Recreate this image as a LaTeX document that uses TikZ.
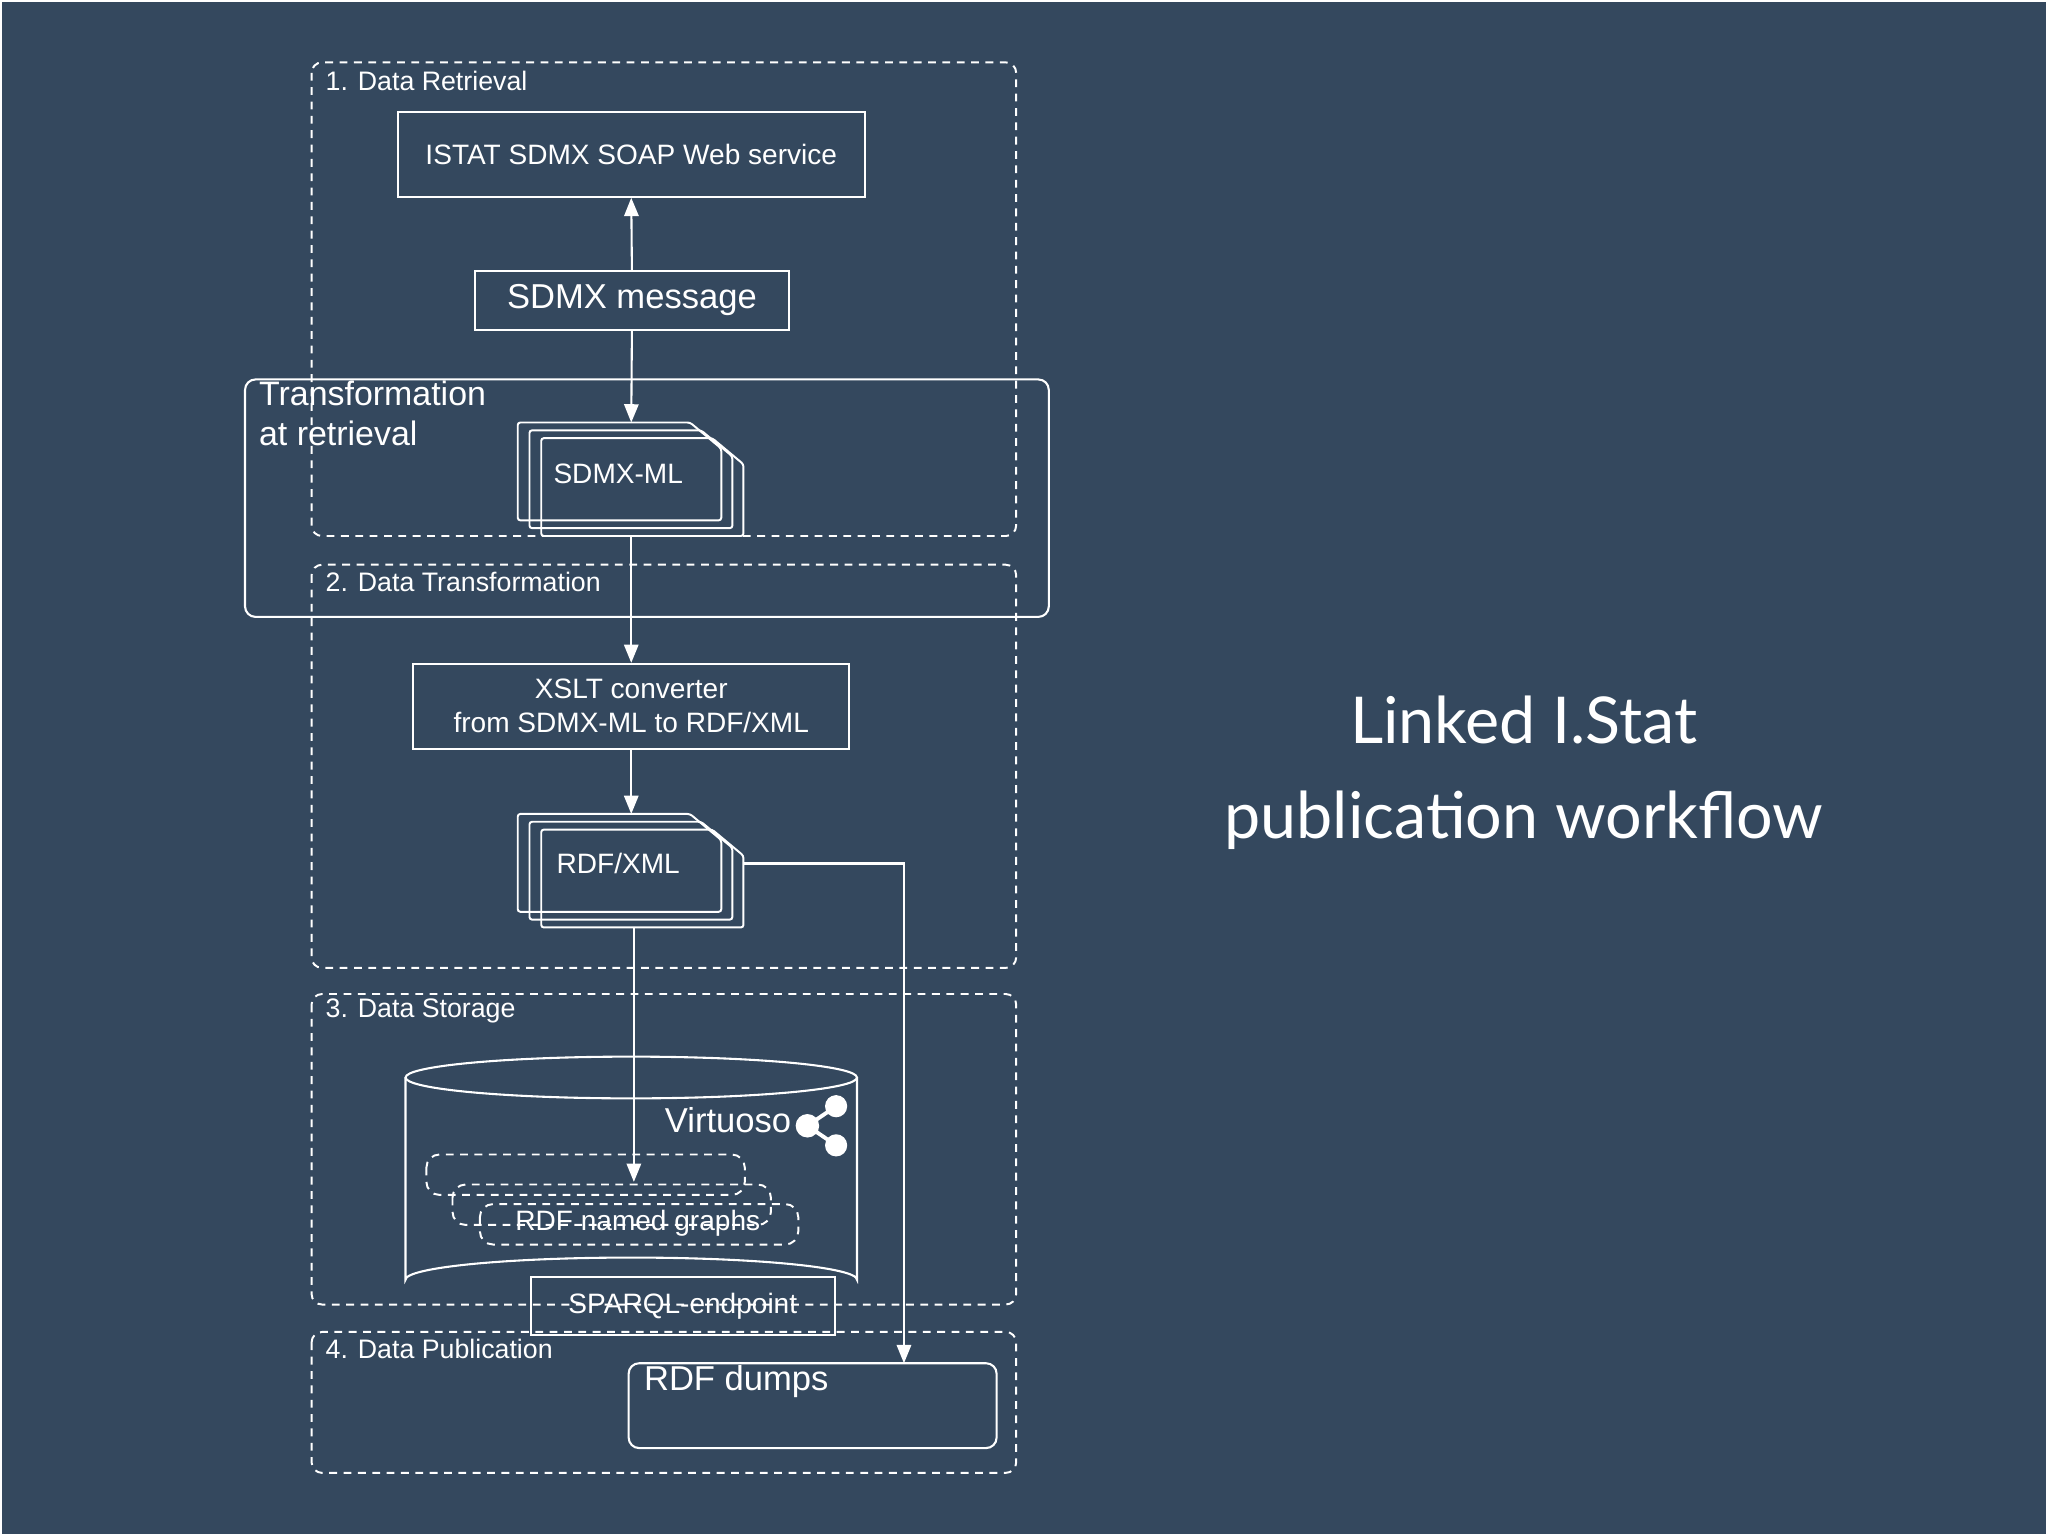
\documentclass[tikz,border=0pt]{standalone}
\usepackage{fontspec}
\setmainfont{Liberation Sans}
\newfontfamily\latofont{Lato}
\usetikzlibrary{arrows.meta}
\definecolor{bg}{RGB}{52,72,94}
\tikzset{
  every path/.style={draw=white, line width=1.6pt},
  grp/.style={draw=white, dashed, dash pattern=on 6pt off 5pt, rounded corners=8pt, line width=1.5pt},
  box/.style={draw=white, line width=1.6pt},
  lbl/.style={text=white, anchor=west, inner sep=0pt, font=\fontsize{20.5}{24}\selectfont},
  big/.style={text=white, inner sep=0pt, font=\fontsize{26.5}{31}\selectfont},
  med/.style={text=white, inner sep=0pt, font=\fontsize{21.5}{26}\selectfont},
  arr/.style={draw=white, line width=1.6pt, -{Triangle[length=14pt,width=11pt]}},
  ngr/.style={draw=white, dashed, dash pattern=on 6pt off 5pt, rounded corners=10pt, line width=1.5pt},
}
\begin{document}
\begin{tikzpicture}[x=1pt,y=-1pt]
\fill[bg, draw=none] (0,0) rectangle (1568,1176);
\useasboundingbox (0,0) rectangle (1568,1176);

% group boxes
\draw[grp] (238,47) rectangle (778,410);
\node[lbl] (g1) at (248,61) {1. Data Retrieval};
\draw[grp] (238,432) rectangle (778,741);
\node[lbl] (g2) at (248,445) {2. Data Transformation};
\draw[grp] (238,761) rectangle (778,999);
\node[lbl] (g3) at (248,774) {3. Data Storage};
\draw[grp] (238,1020) rectangle (778,1128);
\node[lbl] (g4) at (248,1033) {4. Data Publication};

% transformation at retrieval
\draw[rounded corners=8pt] (187,290) rectangle (803,472);
\node[big, anchor=north west, align=left, font=\fontsize{26}{31}\selectfont] (tr) at (197,290) {Transformation\\at retrieval};

% boxes
\node[box, med, minimum width=358pt, minimum height=65pt] (istat) at (483,117.5) {ISTAT SDMX SOAP Web service};
\node[box, big, minimum width=241pt, minimum height=45pt] (msg) at (483.5,229.5) {SDMX message};
\node[box, med, minimum width=334pt, minimum height=65pt, align=center] (xslt) at (483,540.5) {XSLT converter\\from SDMX-ML to RDF/XML};

% document stacks
\foreach \y in {323,623}{
  \foreach \i in {0,1,2}{
    \draw[line width=1.5pt, rounded corners=2pt] (396+9*\i,\y+6*\i) -- (528+8.5*\i,\y+6*\i) -- (552+8.5*\i,\y+6*\i+20) -- (552+8.5*\i,\y+75+6*\i) -- (396+9*\i,\y+75+6*\i) -- cycle;
  }
}
\coordinate (d1t) at (483,323); \coordinate (d1b) at (483,410);
\coordinate (d2t) at (483,623); \coordinate (d2b) at (485,710); \coordinate (d2r) at (569,661);
\node[med] (t1) at (473,362) {SDMX-ML};
\node[med] (t2) at (473,661) {RDF/XML};

% cylinder
\draw (310,825) -- (310,980) arc[start angle=180, end angle=360, x radius=173, y radius=17] -- (656,825);
\draw (483,825) ellipse[x radius=173, y radius=16];
\node[big, anchor=west] (virt) at (508,858) {Virtuoso};
% share icon
\coordinate (s1) at (618,862); \coordinate (s2) at (640,847); \coordinate (s3) at (640,877);
\draw[line width=3pt] (s2) -- (s1) -- (s3);
\fill[white, draw=none] (s1) circle (9) (s2) circle (8.5) (s3) circle (8.5);

% named graphs
\draw[ngr] (326,884) rectangle (570,915);
\draw[ngr] (346,907) rectangle (590,938);
\draw[ngr] (367,922) rectangle (611,953);
\node[med] (ng) at (488,937) {RDF named graphs};
\coordinate (ngt) at (485,905);

\node[box, med, minimum width=233pt, minimum height=44pt] (sparql) at (522.5,1000) {SPARQL-endpoint};

% RDF dumps
\draw[rounded corners=8pt] (481,1044) rectangle (763,1109);
\node[big, anchor=west] (dumps) at (492,1058) {RDF dumps};
\coordinate (dumpst) at (692,1044);

% arrows
\draw[arr] (msg.north) -- (istat.south);
\draw[arr] (msg.south) -- (d1t);
\draw[arr] (d1b) -- (xslt.north);
\draw[arr] (xslt.south) -- (d2t);
\draw[arr] (d2b) -- (ngt);
\draw[arr] (d2r) -| (dumpst);

% title
\node[text=white, font=\latofont\fontsize{49.5}{60}\selectfont] (title1) at (1167,551) {Linked I.Stat};
\node[text=white, font=\latofont\fontsize{49.5}{60}\selectfont] (title2) at (1167,628) {publication workflow};
\end{tikzpicture}
\end{document}
